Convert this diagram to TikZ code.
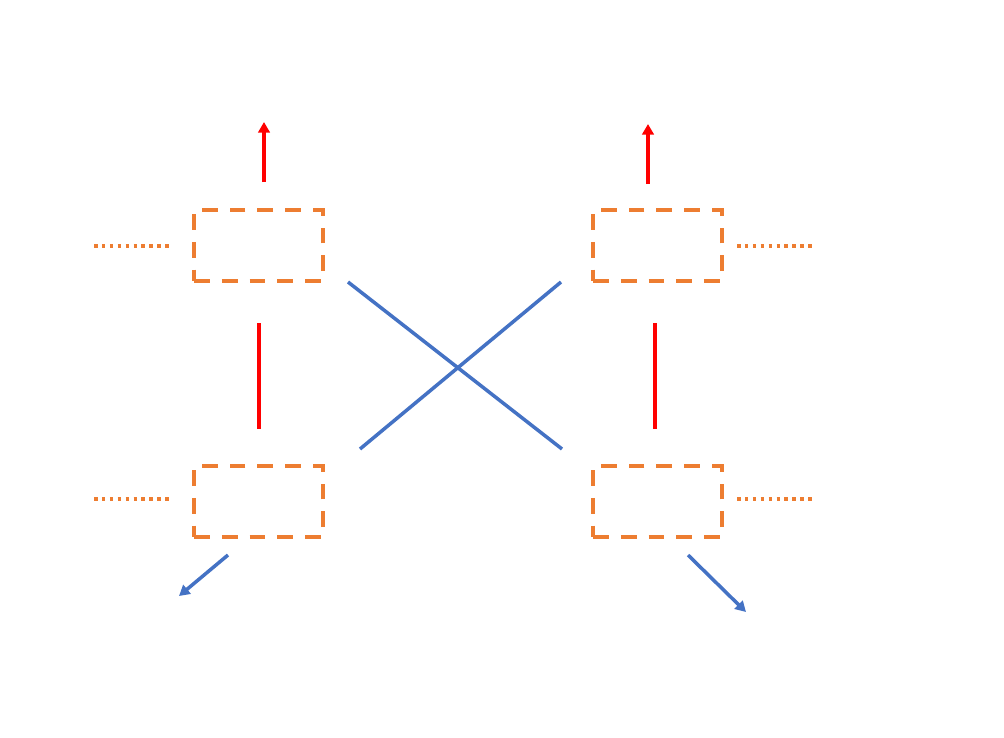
\documentclass[tikz,border=0pt]{standalone}
\usetikzlibrary{arrows.meta}
\definecolor{orng}{RGB}{237,125,49}
\definecolor{blu}{RGB}{68,114,196}
\definecolor{rd}{RGB}{255,0,0}
\tikzset{
  dbox/.style={draw=orng, line width=2.2pt, dash pattern=on 9pt off 6.8pt, minimum width=2.58cm, minimum height=1.42cm, inner sep=0pt},
  dotline/.style={draw=orng, line width=2.2pt, dash pattern=on 2pt off 2.5pt},
  redline/.style={draw=rd, line width=2.2pt},
  redarrow/.style={redline, -{Triangle[length=6pt,width=6.5pt]}},
  blueline/.style={draw=blu, line width=2pt},
  bluearrow/.style={blueline, -{Triangle[length=6pt,width=6.5pt]}}
}
\begin{document}
\begin{tikzpicture}[x=0.02cm,y=-0.02cm]
\useasboundingbox (0,0) rectangle (1004,737);
% boxes
\node[dbox] (lt) at (258.5,245.5) {};
\node[dbox] (rt) at (657.5,245.5) {};
\node[dbox] (lb) at (258.5,501.5) {};
\node[dbox] (rb) at (657.5,501.5) {};
% coordinates
\coordinate (dlt1) at (94,246); \coordinate (dlt2) at (170,246);
\coordinate (drt1) at (737,246); \coordinate (drt2) at (812,246);
\coordinate (dlb1) at (94,499); \coordinate (dlb2) at (170,499);
\coordinate (drb1) at (737,499); \coordinate (drb2) at (812,499);
\coordinate (ral1) at (264,182); \coordinate (ral2) at (264,122);
\coordinate (rar1) at (648,184); \coordinate (rar2) at (648,124);
\coordinate (rl1) at (259,323); \coordinate (rl2) at (259,429);
\coordinate (rr1) at (655,323); \coordinate (rr2) at (655,429);
\coordinate (b11) at (348,282); \coordinate (b12) at (562,449);
\coordinate (b21) at (561,282); \coordinate (b22) at (360,449);
\coordinate (bal1) at (228,555); \coordinate (bal2) at (179,596);
\coordinate (bar1) at (688,555); \coordinate (bar2) at (746,612);
% dotted
\draw[dotline] (dlt1) -- (dlt2);
\draw[dotline] (drt1) -- (drt2);
\draw[dotline] (dlb1) -- (dlb2);
\draw[dotline] (drb1) -- (drb2);
% red
\draw[redarrow] (ral1) -- (ral2);
\draw[redarrow] (rar1) -- (rar2);
\draw[redline] (rl1) -- (rl2);
\draw[redline] (rr1) -- (rr2);
% blue
\draw[blueline] (b11) -- (b12);
\draw[blueline] (b21) -- (b22);
\draw[bluearrow] (bal1) -- (bal2);
\draw[bluearrow] (bar1) -- (bar2);
\end{tikzpicture}
\end{document}
